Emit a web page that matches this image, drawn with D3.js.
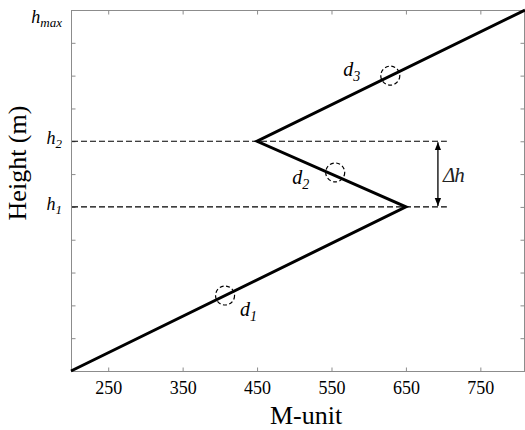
<!DOCTYPE html>
<html>
<head>
<meta charset="utf-8">
<script src="https://cdn.jsdelivr.net/npm/d3@7"></script>
<style>
  body { margin: 0; background: #fff; }
  svg { display: block; font-family: "Liberation Serif", "Times New Roman", serif; }
</style>
</head>
<body>
<div id="chart"></div>
<script>
// profile: M-unit against height
var profileM = [200, 650, 450, 810];
var profileH = [0, 5, 7, 11];

// axis ticks
var xTicks = [250, 350, 450, 550, 650, 750];
var yTicks = [0, 1, 2, 3, 4, 5, 6, 7, 8, 9, 10, 11];
var yLabelVals = [5, 7, 11];
var yLabelSubs = ["1", "2", "max"];

// marked layers (dashed circles)
var layerNames = ["1", "2", "3"];
var layerM = [407, 555, 629];
var layerH = [2.3, 6.05, 9.0];

// dashed height levels and the delta-h arrow
var levelH = [5, 7];
var levelEnd = 705;
var arrowM = 693;

var width = 525,
  height = 430;
// note: "top" is taken by window.top, so plot edges get their own names
var plotL = 71, plotR = 525, plotT = 10, plotB = 371;

var x = d3.scaleLinear().domain([200, 810]).range([plotL, plotR]);
var y = d3.scaleLinear().domain([0, 11]).range([plotB, plotT]);

var svg = d3.select("#chart")
  .append("svg")
  .attr("width", width)
  .attr("height", height);

var defs = svg.append("defs");
defs.append("marker")
  .attr("id", "ah")
  .attr("viewBox", "0 0 10 10")
  .attr("refX", 10)
  .attr("refY", 5)
  .attr("markerWidth", 8)
  .attr("markerHeight", 8)
  .attr("markerUnits", "userSpaceOnUse")
  .attr("orient", "auto-start-reverse")
  .append("path")
  .attr("d", "M0,1 L10,5 L0,9 Z")
  .attr("fill", "#000");

// box
svg.append("rect")
  .attr("x", plotL + 0.5)
  .attr("y", plotT + 0.5)
  .attr("width", plotR - plotL - 1)
  .attr("height", plotB - plotT)
  .attr("fill", "none")
  .attr("stroke", "#8c8c8c")
  .attr("stroke-width", 1);

// ticks (inward on all four sides)
var tickLen = 4;
var xAxisB = svg.append("g")
  .attr("transform", "translate(0," + (plotB + 0.5) + ")")
  .call(d3.axisBottom(x).tickValues(xTicks).tickSizeInner(-tickLen).tickSizeOuter(0).tickPadding(10));
var xAxisT = svg.append("g")
  .attr("transform", "translate(0," + (plotT + 0.5) + ")")
  .call(d3.axisTop(x).tickValues(xTicks).tickSizeInner(-tickLen).tickSizeOuter(0).tickFormat(""));
var yAxisL = svg.append("g")
  .attr("transform", "translate(" + (plotL + 0.5) + ",0)")
  .call(d3.axisLeft(y).tickValues(yTicks.slice(1, -1)).tickSizeInner(-tickLen).tickSizeOuter(0).tickFormat(""));
var yAxisR = svg.append("g")
  .attr("transform", "translate(" + (plotR - 0.5) + ",0)")
  .call(d3.axisRight(y).tickValues(yTicks.slice(1, -1)).tickSizeInner(-tickLen).tickSizeOuter(0).tickFormat(""));

[xAxisB, xAxisT, yAxisL, yAxisR].forEach(function(a) {
  a.select(".domain").remove();
  a.selectAll(".tick line").attr("stroke", "#8c8c8c");
});
xAxisB.selectAll(".tick text")
  .attr("fill", "#000")
  .style("font-family", "Liberation Serif, serif")
  .style("font-size", "18px");

// y labels h1, h2, hmax
var yl = svg.append("g");
yLabelVals.forEach(function(v, i) {
  var t = yl.append("text")
    .attr("x", 62)
    .attr("y", Math.max(y(v) + 3, 23))
    .attr("text-anchor", "end")
    .style("font-style", "italic")
    .style("font-size", "18px");
  t.append("tspan").text("h");
  t.append("tspan")
    .attr("dy", 4)
    .style("font-size", "13px")
    .text(yLabelSubs[i]);
});

// axis titles
svg.append("text")
  .attr("x", 306)
  .attr("y", 424)
  .attr("text-anchor", "middle")
  .style("font-size", "26px")
  .text("M-unit");

svg.append("text")
  .attr("transform", "translate(26,163) rotate(-90)")
  .attr("text-anchor", "middle")
  .style("font-size", "26px")
  .text("Height (m)");

// dashed levels
svg.selectAll(".level")
  .data(levelH)
  .enter().append("line")
  .attr("class", "level")
  .attr("x1", plotL + 1)
  .attr("x2", x(levelEnd))
  .attr("y1", function(d) { return y(d); })
  .attr("y2", function(d) { return y(d); })
  .attr("stroke", "#000")
  .attr("stroke-width", 1.1)
  .attr("stroke-dasharray", "6,3");

// delta h arrow
svg.append("line")
  .attr("x1", x(arrowM))
  .attr("x2", x(arrowM))
  .attr("y1", y(levelH[1]) + 1)
  .attr("y2", y(levelH[0]) - 1)
  .attr("stroke", "#000")
  .attr("stroke-width", 1.3)
  .attr("marker-start", "url(#ah)")
  .attr("marker-end", "url(#ah)");

var dh = svg.append("text")
  .attr("x", x(arrowM) + 5)
  .attr("y", (y(levelH[0]) + y(levelH[1])) / 2 + 8)
  .style("font-style", "italic")
  .style("font-size", "21px")
  .style("fill", "#222");
dh.append("tspan").text("\u0394");
dh.append("tspan").attr("dx", -1).text("h");

// profile line
var line = d3.line()
  .x(function(d, i) { return x(profileM[i]); })
  .y(function(d, i) { return y(profileH[i]); });

svg.append("path")
  .datum(profileM)
  .attr("d", line)
  .attr("fill", "none")
  .attr("stroke", "#000")
  .attr("stroke-width", 3)
  .attr("stroke-linejoin", "miter");

// dashed circles
svg.selectAll(".layer")
  .data(layerM)
  .enter().append("circle")
  .attr("class", "layer")
  .attr("cx", function(d) { return x(d); })
  .attr("cy", function(d, i) { return y(layerH[i]); })
  .attr("r", 9.5)
  .attr("fill", "none")
  .attr("stroke", "#000")
  .attr("stroke-width", 1.2)
  .attr("stroke-dasharray", "4,2.5");

// d labels, offsets from the circles
var offs = [[15, 20], [-43, 12], [-47, 0]];
layerM.forEach(function(m, i) {
  var t = svg.append("text")
    .attr("x", x(m) + offs[i][0])
    .attr("y", y(layerH[i]) + offs[i][1])
    .style("font-style", "italic")
    .style("font-size", "20px");
  t.append("tspan").text("d");
  t.append("tspan")
    .attr("dy", 5)
    .style("font-size", "14px")
    .text(layerNames[i]);
});
</script>
</body>
</html>
